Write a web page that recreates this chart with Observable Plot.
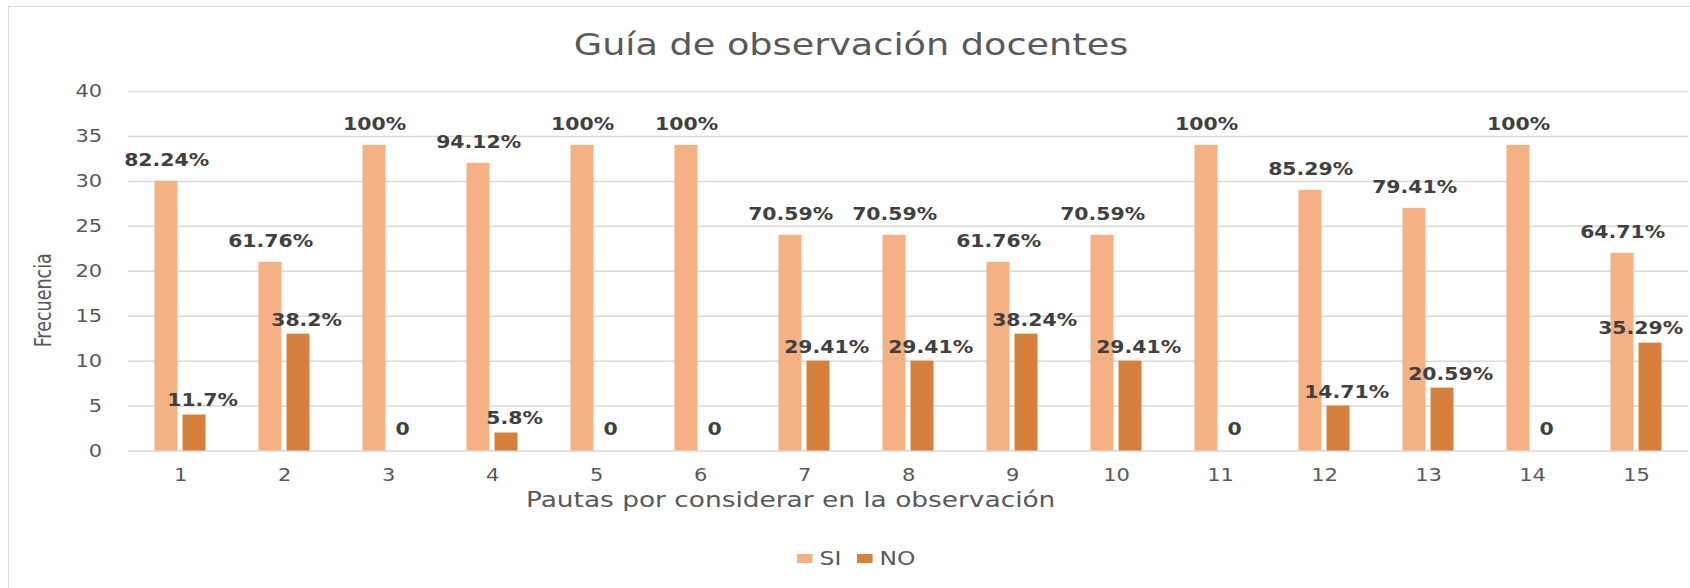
<!DOCTYPE html>
<html>
<head>
<meta charset="utf-8">
<script src="https://cdn.jsdelivr.net/npm/d3@7"></script>
<script src="https://cdn.jsdelivr.net/npm/@observablehq/plot@0.6"></script>
<style>
  html, body { margin: 0; padding: 0; background: #ffffff; }
  #chart { position: relative; width: 1690px; height: 588px; overflow: hidden; background: #ffffff; font-family: "DejaVu Sans", sans-serif; }
  #frame { position: absolute; left: 8px; top: 6px; right: -2px; bottom: -2px; border-left: 1.5px solid #d9d9d9; border-top: 1.5px solid #d9d9d9; }
  #title { position: absolute; left: 6px; top: 25px; width: 1690px; height: 40px; line-height: 40px; text-align: center; font-size: 30.5px; color: #595959; transform: scaleX(1.2); transform-origin: 845px 50%; white-space: nowrap; }
  #plot { position: absolute; left: 0; top: 70px; }
  #legend { position: absolute; left: 797px; top: 546px; height: 24px; display: flex; align-items: center; font-size: 19.5px; color: #595959; transform: scaleX(1.2); transform-origin: 0 50%; white-space: nowrap; }
  .sw { display: inline-block; width: 13.3px; height: 9px; margin-right: 5.5px; }
  .item { display: flex; align-items: center; margin-right: 13px; }
</style>
</head>
<body>
<div id="chart">
  <div id="frame"></div>
  <div id="title"></div>
  <div id="plot"></div>
  <div id="legend"></div>
</div>
<script>
// ---- data ----
const chartTitle = "Guía de observación docentes";
const xTitle = "Pautas por considerar en la observación";
const yTitle = "Frecuencia";
const categories = ["1","2","3","4","5","6","7","8","9","10","11","12","13","14","15"];
const seriesNames = ["SI", "NO"];
const siValues = [30, 21, 34, 32, 34, 34, 24, 24, 21, 24, 34, 29, 27, 34, 22];
const noValues = [4, 13, 0, 2, 0, 0, 10, 10, 13, 10, 0, 5, 7, 0, 12];
const siLabels = ["82.24%","61.76%","100%","94.12%","100%","100%","70.59%","70.59%","61.76%","70.59%","100%","85.29%","79.41%","100%","64.71%"];
const noLabels = ["11.7%","38.2%","0","5.8%","0","0","29.41%","29.41%","38.24%","29.41%","0","14.71%","20.59%","0","35.29%"];
const yTicks = [0, 5, 10, 15, 20, 25, 30, 35, 40];
const colors = {SI: "#F4B183", NO: "#D5813D"};

// ---- build ----
const S = 1.2;              // horizontal stretch of the original picture
const W = 1690 / S;
const H = 460;
const siRows = categories.map((c, i) => ({cat: c, value: siValues[i], label: siLabels[i]}));
const noRows = categories.map((c, i) => ({cat: c, value: noValues[i], label: noLabels[i]}));
const lastCat = categories[categories.length - 1];
const noRowsZero = noRows.filter(d => d.value === 0);
const noRowsPos = noRows.filter(d => d.value !== 0 && d.cat !== lastCat);
const noRowsEdge = noRows.filter(d => d.value !== 0 && d.cat === lastCat);

const band = 1560 / 15 / S;     // band width in user units
const barW = 23 / S, gap = 5 / S;
const innerInset = band / 2 - gap / 2 - barW;   // inset on the near side
const farInset = band / 2 + gap / 2;            // inset on the far side
const offset = (gap / 2 + barW / 2);

const labelStyle = {fontWeight: "bold", fontSize: 17, fill: "#404040"};

const chart = Plot.plot({
  width: W,
  height: H,
  marginTop: 21,
  marginBottom: 79.5,
  marginLeft: 128 / S,
  marginRight: 2 / S,
  style: {fontFamily: "'DejaVu Sans', sans-serif", fontSize: "17.5px", color: "#595959", background: "transparent", overflow: "visible"},
  x: {type: "band", domain: categories, padding: 0, round: false, label: null},
  y: {domain: [0, 40], label: null},
  marks: [
    Plot.gridY(yTicks, {stroke: "#d9d9d9", strokeOpacity: 1, strokeWidth: 1.5}),
    Plot.axisY(yTicks, {tickSize: 0, tickPadding: 22, label: null}),
    Plot.axisX({tickSize: 0, tickPadding: 17.5, label: null}),
    Plot.barY(siRows, {x: "cat", y: "value", fill: colors.SI, insetLeft: innerInset, insetRight: farInset}),
    Plot.barY(noRows, {x: "cat", y: "value", fill: colors.NO, insetLeft: farInset, insetRight: innerInset}),
    Plot.text(siRows, {x: "cat", y: "value", text: "label", dx: -offset, dy: -21, ...labelStyle}),
    Plot.text(noRowsPos, {x: "cat", y: "value", text: "label", dx: offset + 8 / S, dy: -14, ...labelStyle}),
    Plot.text(noRowsEdge, {x: "cat", y: "value", text: "label", dx: offset - 10 / S, dy: -15, ...labelStyle}),
    Plot.text(noRowsZero, {x: "cat", y: "value", text: "label", dx: offset, dy: -21, ...labelStyle}),
    Plot.text([xTitle], {text: d => d, frameAnchor: "bottom", dx: -98.3, dy: 56, fontSize: 22, fill: "#595959"}),
    Plot.text([yTitle], {text: d => d, frameAnchor: "left", textAnchor: "middle", rotate: -90, dx: -71.3, dy: 29, fontSize: 19.5, fontFamily: "'DejaVu Sans Condensed', 'DejaVu Sans', sans-serif", fontStretch: "condensed", fill: "#595959"})
  ]
});

chart.setAttribute("width", 1690);
chart.setAttribute("height", H);
chart.setAttribute("preserveAspectRatio", "none");
chart.style.width = "1690px";
chart.style.height = H + "px";
chart.style.maxWidth = "none";
document.getElementById("plot").appendChild(chart);

document.getElementById("title").textContent = chartTitle;
const legend = document.getElementById("legend");
seriesNames.forEach(name => {
  const item = document.createElement("span");
  item.className = "item";
  const sw = document.createElement("span");
  sw.className = "sw";
  sw.style.background = colors[name];
  item.appendChild(sw);
  item.appendChild(document.createTextNode(name));
  legend.appendChild(item);
});
</script>
</body>
</html>
